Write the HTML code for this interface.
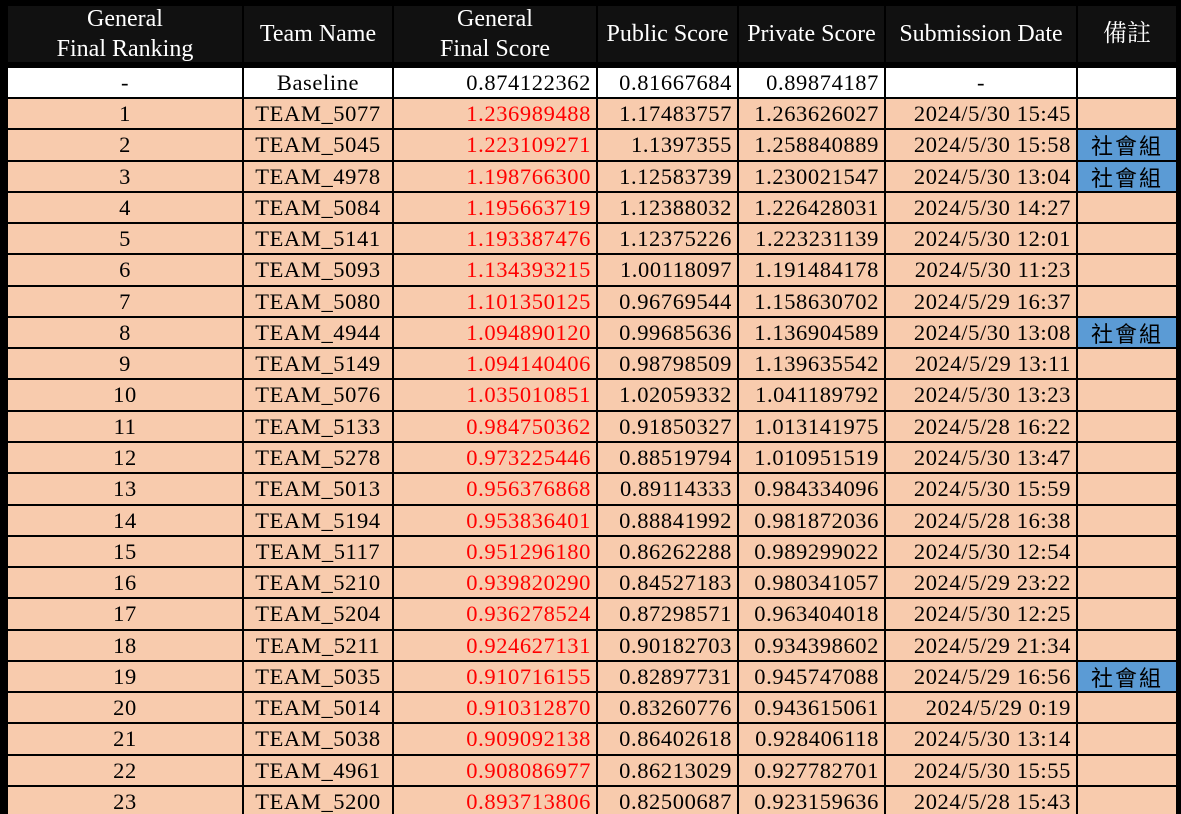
<!DOCTYPE html>
<html><head><meta charset="utf-8"><style>
html,body{margin:0;padding:0;background:#000;width:1181px;height:814px;overflow:hidden}
#t{position:relative;width:1181px;height:814px;background:#000}
.c{position:absolute;box-sizing:border-box;font-family:"Liberation Serif","Noto Serif CJK SC",serif;font-size:22.5px;letter-spacing:0.6px;white-space:nowrap;display:flex;align-items:center;color:#000;overflow:hidden}
.h{background:#111;color:#fff;justify-content:center;text-align:center;line-height:30px;letter-spacing:0;font-size:24px}
.w{background:#fff}.p{background:#f8cbad}.b{background:#5b9bd5;font-family:"Noto Sans CJK TC",sans-serif;font-size:22px;letter-spacing:2px}
.ct{justify-content:center}.rt{justify-content:flex-end;padding-right:5px}
.red{color:#ff0000}
</style></head><body>
<div id="t"></div>
<script>
const ranks=["1","2","3","4","5","6","7","8","9","10","11","12","13","14","15","16","17","18","19","20","21","22","23"];
const teams=["TEAM_5077","TEAM_5045","TEAM_4978","TEAM_5084","TEAM_5141","TEAM_5093","TEAM_5080","TEAM_4944","TEAM_5149","TEAM_5076","TEAM_5133","TEAM_5278","TEAM_5013","TEAM_5194","TEAM_5117","TEAM_5210","TEAM_5204","TEAM_5211","TEAM_5035","TEAM_5014","TEAM_5038","TEAM_4961","TEAM_5200"];
const finalScores=["1.236989488","1.223109271","1.198766300","1.195663719","1.193387476","1.134393215","1.101350125","1.094890120","1.094140406","1.035010851","0.984750362","0.973225446","0.956376868","0.953836401","0.951296180","0.939820290","0.936278524","0.924627131","0.910716155","0.910312870","0.909092138","0.908086977","0.893713806"];
const publicScores=["1.17483757","1.1397355","1.12583739","1.12388032","1.12375226","1.00118097","0.96769544","0.99685636","0.98798509","1.02059332","0.91850327","0.88519794","0.89114333","0.88841992","0.86262288","0.84527183","0.87298571","0.90182703","0.82897731","0.83260776","0.86402618","0.86213029","0.82500687"];
const privateScores=["1.263626027","1.258840889","1.230021547","1.226428031","1.223231139","1.191484178","1.158630702","1.136904589","1.139635542","1.041189792","1.013141975","1.010951519","0.984334096","0.981872036","0.989299022","0.980341057","0.963404018","0.934398602","0.945747088","0.943615061","0.928406118","0.927782701","0.923159636"];
const dates=["2024/5/30 15:45","2024/5/30 15:58","2024/5/30 13:04","2024/5/30 14:27","2024/5/30 12:01","2024/5/30 11:23","2024/5/29 16:37","2024/5/30 13:08","2024/5/29 13:11","2024/5/30 13:23","2024/5/28 16:22","2024/5/30 13:47","2024/5/30 15:59","2024/5/28 16:38","2024/5/30 12:54","2024/5/29 23:22","2024/5/30 12:25","2024/5/29 21:34","2024/5/29 16:56","2024/5/29 0:19","2024/5/30 13:14","2024/5/30 15:55","2024/5/28 15:43"];
const notes=["","社會組","社會組","","","","","社會組","","","","","","","","","","","社會組","","","",""];
const headers=["General<br>Final Ranking","Team Name","General<br>Final Score","Public Score","Private Score","Submission Date","備註"];
const colNames=["rank","team-name","final-score","public-score","private-score","submission-date","note"];
const L=[8,244,394,598,739,886,1078], R=[242,392,596,737,884,1076,1176];
const T=document.getElementById('t');
function cell(x0,x1,y,h,cls,html,name){
  const d=document.createElement('div');
  d.className='c '+cls;
  d.style.left=x0+'px';d.style.width=(x1-x0)+'px';d.style.top=y+'px';d.style.height=h+'px';
  d.innerHTML=html;
  
  
  T.appendChild(d);
}
headers.forEach((h,i)=>cell(L[i],R[i],6,56,'h',h,'header-'+colNames[i]));
const base=["-","Baseline","0.874122362","0.81667684","0.89874187","-",""];
const al=['ct','ct','rt','rt','rt','ct','ct'];
base.forEach((v,i)=>cell(L[i],R[i],68,29,'w '+al[i],v,'baseline-'+colNames[i]));
const al2=['ct','ct','rt red','rt','rt','rt','ct'];
for(let r=0;r<ranks.length;r++){
  const y=Math.round(99+r*31.27), h=Math.round(99+(r+1)*31.27)-y-2;
  const vals=[ranks[r],teams[r],finalScores[r],publicScores[r],privateScores[r],dates[r],notes[r]];
  vals.forEach((v,i)=>{
    let cls='p '+al2[i];
    if(i==6&&v){cls='b ct';}
    cell(L[i],R[i],y,h,cls,v,'row'+ranks[r]+'-'+colNames[i]);
  });
}
</script>
</body></html>
